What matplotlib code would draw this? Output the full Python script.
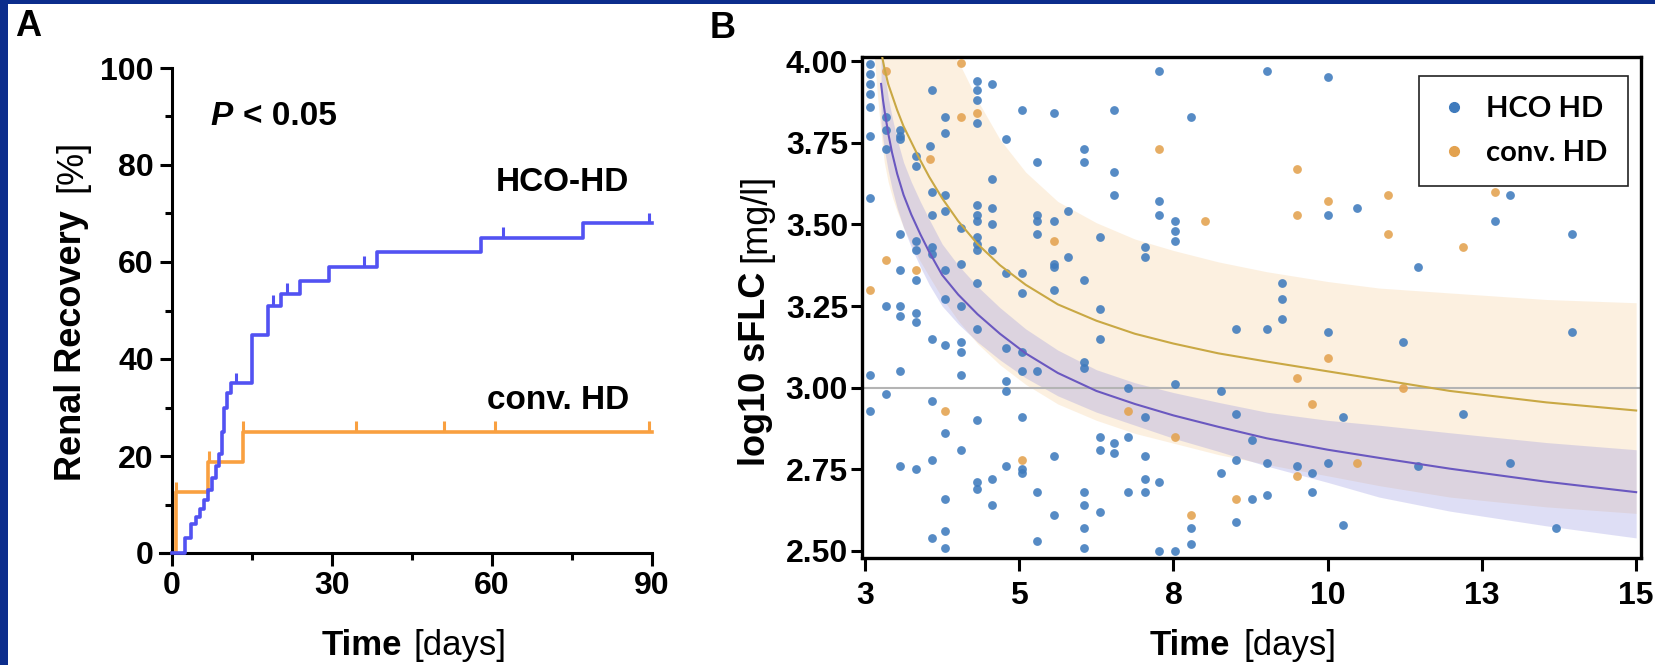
import numpy as np
import matplotlib.pyplot as plt
from matplotlib.patches import Rectangle
from matplotlib.lines import Line2D
from matplotlib.ticker import MultipleLocator

plt.rcParams['font.family'] = ['Liberation Sans', 'DejaVu Sans']

# ---- panel A: renal recovery (Kaplan-Meier, %) ----
hco_t = [0, 2.5, 3.5, 4.5, 5.3, 6.0, 6.8, 7.5, 8.2, 8.9, 9.4, 9.8, 10.3, 11.0,
         15.0, 18.0, 20.5, 24.0, 29.5, 38.5, 58.0, 77.0, 90]
hco_v = [0, 3, 6, 7.5, 9, 11, 13, 15.5, 18, 20.5, 25, 30, 33, 35,
         45, 51, 53.5, 56, 59, 62, 65, 68, 68]
conv_t = [0, 0.8, 6.8, 13.3, 90]
conv_v = [0, 12.5, 18.75, 25, 25]
hco_cens = [12.0, 19.0, 21.5, 36.0, 62.0, 89.5]
conv_cens = [0.8, 7.0, 13.3, 34.5, 51.0, 60.5, 89.5]

# ---- panel B: log10 sFLC scatter ----
hco_x = ([3.08] * 9 + [3.33] * 5 + [3.54] * 9 + [3.80] * 8 + [4.01] + [4.04] * 9
         + [4.25] * 11 + [4.50] * 7 + [4.74] * 15 + [4.97] * 7 + [5.20] * 6
         + [5.45] * 8 + [5.68] * 7 + [5.94] * 7 + [6.16] * 2 + [6.40] * 9
         + [6.65] * 6 + [6.87] * 5 + [7.10] * 3 + [7.36] * 6 + [7.58] * 5
         + [7.82] * 5 + [8.07] * 3 + [8.54] * 2 + [8.78] * 4 + [9.02] * 2
         + [9.25] * 4 + [9.49] * 3 + [9.72] + [9.95] * 2 + [10.20] * 4
         + [10.44] * 2 + [10.66] + [11.37] + [11.61] * 2 + [12.31] + [12.80]
         + [13.04] * 2 + [13.76] + [14.00] * 2)
hco_y = [3.99, 3.96, 3.93, 3.90, 3.86, 3.77, 3.58, 3.04, 2.93,
         3.83, 3.79, 3.73, 3.25, 2.98,
         3.79, 3.77, 3.76, 3.47, 3.36, 3.25, 3.22, 3.05, 2.76,
         3.71, 3.68, 3.45, 3.42, 3.33, 3.23, 3.20, 2.75,
         3.74,
         3.91, 3.60, 3.53, 3.43, 3.41, 3.15, 2.96, 2.78, 2.54,
         3.83, 3.78, 3.59, 3.54, 3.36, 3.27, 3.13, 2.86, 2.66, 2.56, 2.51,
         3.49, 3.38, 3.25, 3.14, 3.11, 3.04, 2.81,
         3.94, 3.91, 3.88, 3.81, 3.56, 3.53, 3.51, 3.46, 3.44, 3.42, 3.32,
         3.18, 2.90, 2.71, 2.69,
         3.93, 3.64, 3.55, 3.50, 3.42, 2.72, 2.64,
         3.76, 3.35, 3.12, 3.02, 2.99, 2.76,
         3.85, 3.35, 3.29, 3.11, 3.05, 2.91, 2.75, 2.74,
         3.69, 3.53, 3.51, 3.47, 3.05, 2.68, 2.53,
         3.84, 3.51, 3.38, 3.37, 3.30, 2.79, 2.61,
         3.54, 3.40,
         3.73, 3.69, 3.33, 3.08, 3.06, 2.68, 2.64, 2.57, 2.51,
         3.46, 3.24, 3.15, 2.85, 2.81, 2.62,
         3.85, 3.66, 3.59, 2.83, 2.80,
         3.00, 2.85, 2.68,
         3.43, 3.40, 2.91, 2.79, 2.72, 2.68,
         3.97, 3.57, 3.53, 2.71, 2.50,
         3.51, 3.48, 3.45, 3.01, 2.50,
         3.83, 2.57, 2.52,
         2.99, 2.74,
         3.18, 2.92, 2.78, 2.59,
         2.84, 2.66,
         3.97, 3.18, 2.77, 2.67,
         3.32, 3.27, 3.21,
         2.76,
         2.74, 2.68,
         3.95, 3.53, 3.17, 2.77,
         2.91, 2.58,
         3.55,
         3.14,
         3.37, 2.76,
         2.92,
         3.51,
         3.59, 2.77,
         2.57,
         3.47, 3.17]
conv_x = [3.08, 3.33, 3.33, 3.80, 4.01, 4.25, 4.50, 4.50, 4.74, 5.45, 5.94,
          7.10, 7.58, 7.82, 8.07, 8.29, 8.78, 9.72, 9.72, 9.72, 9.72, 9.95,
          10.20, 10.20, 10.66, 11.14, 11.14, 11.37, 12.31, 12.80]
conv_y = [3.30, 3.97, 3.39, 3.36, 3.70, 2.93, 3.83, 3.995, 3.84, 2.78, 3.45,
          2.93, 3.73, 2.85, 2.61, 3.51, 2.66, 3.67, 3.53, 3.03, 2.73, 2.95,
          3.57, 3.09, 2.77, 3.59, 3.47, 3.00, 3.43, 3.60]

# fitted curves and confidence bands
hco_fit_x = [3.25, 3.28, 3.31, 3.36, 3.42, 3.50, 3.60, 3.72, 3.86, 4.00, 4.20,
             4.45, 4.75, 5.10, 5.50, 6.00, 6.60, 7.20, 7.80, 8.50, 9.25, 10.2,
             11.0, 12.1, 13.6, 15.0]
hco_fit_y = [3.93, 3.88, 3.84, 3.78, 3.72, 3.655, 3.59, 3.53, 3.47, 3.415, 3.345,
             3.285, 3.225, 3.165, 3.105, 3.045, 2.99, 2.95, 2.915, 2.88, 2.845, 2.81,
             2.785, 2.752, 2.712, 2.68]
hco_band_hi = [4.05, 4.00, 3.955, 3.89, 3.83, 3.76, 3.69, 3.63, 3.57, 3.515, 3.44,
               3.375, 3.31, 3.245, 3.18, 3.115, 3.055, 3.015, 2.985, 2.955, 2.925,
               2.90, 2.885, 2.862, 2.832, 2.81]
hco_band_lo = [3.81, 3.76, 3.72, 3.665, 3.61, 3.55, 3.49, 3.43, 3.37, 3.315, 3.25,
               3.195, 3.14, 3.085, 3.03, 2.975, 2.925, 2.885, 2.845, 2.805, 2.76,
               2.71, 2.665, 2.622, 2.577, 2.54]
conv_fit_x = [3.27, 3.30, 3.36, 3.43, 3.50, 3.60, 3.70, 3.85, 4.00, 4.20, 4.45,
              4.75, 5.10, 5.50, 6.00, 6.60, 7.20, 7.80, 8.50, 9.25, 10.2, 11.0,
              12.1, 13.6, 15.0]
conv_fit_y = [4.01, 3.98, 3.93, 3.89, 3.85, 3.80, 3.76, 3.70, 3.645, 3.58, 3.51,
              3.44, 3.375, 3.315, 3.255, 3.205, 3.165, 3.135, 3.105, 3.08, 3.05, 3.025,
              2.99, 2.955, 2.93]
conv_band_x = [3.15, 3.20] + conv_fit_x
conv_band_hi = [4.05, 4.05, 4.05, 4.05, 4.05, 4.05, 4.05, 4.05, 4.05, 4.05, 4.05,
                4.05, 4.00, 3.88, 3.76, 3.66, 3.57, 3.505, 3.455, 3.42, 3.385, 3.355,
                3.325, 3.305, 3.29, 3.27, 3.26]
conv_band_lo = [4.00, 3.88, 3.74, 3.69, 3.63, 3.58, 3.54, 3.49, 3.45, 3.39, 3.34,
                3.275, 3.205, 3.135, 3.07, 3.01, 2.95, 2.90, 2.86, 2.83, 2.795, 2.765,
                2.73, 2.70, 2.665, 2.635, 2.615]

b_tick_pos = [3, 5.4, 7.8, 10.2, 12.6, 15]
b_tick_lab = ['3', '5', '8', '10', '13', '15']

W, H = 1655, 665
fig = plt.figure(figsize=(W / 100, H / 100), dpi=100)


def rect(x0, y0, x1, y1):
    return [x0 / W, 1 - y1 / H, (x1 - x0) / W, (y1 - y0) / H]


def ftext(x, y, s, **kw):
    fig.text(x / W, 1 - y / H, s, **kw)


# blue frame on top and left
fig.patches.append(Rectangle((0, 1 - 4 / H), 1, 4 / H, transform=fig.transFigure,
                             facecolor='#0c2d8c', lw=0, zorder=0))
fig.patches.append(Rectangle((0, 0), 8 / W, 1, transform=fig.transFigure,
                             facecolor='#0c2d8c', lw=0, zorder=0))

blue_km = '#5252f2'
orange_km = '#f9a040'

# ---------------- panel A ----------------
axA = fig.add_axes(rect(159.7, 68, 652, 553))
axA.step(hco_t, hco_v, where='post', color=blue_km, lw=2.6, clip_on=False, zorder=3)
axA.step(conv_t, conv_v, where='post', color=orange_km, lw=2.6, clip_on=False, zorder=2)
for cens, t, v, c in [(hco_cens, hco_t, hco_v, blue_km), (conv_cens, conv_t, conv_v, orange_km)]:
    for ct in cens:
        val = v[np.searchsorted(t, ct, side='right') - 1]
        axA.vlines(ct, val, val + 2.2, color=c, lw=2.2, clip_on=False)
axA.set_xlim(-2.3, 90)
axA.set_ylim(0, 100)
axA.spines['left'].set_position(('data', 0))
for s in ['top', 'right']:
    axA.spines[s].set_visible(False)
for s in ['left', 'bottom']:
    axA.spines[s].set_linewidth(2.2)
axA.set_xticks([0, 30, 60, 90])
axA.xaxis.set_minor_locator(MultipleLocator(15))
axA.set_yticks([0, 20, 40, 60, 80, 100])
axA.yaxis.set_minor_locator(MultipleLocator(10))
axA.tick_params(which='major', length=9, width=2.2, labelsize=23, pad=4)
axA.tick_params(which='minor', length=5, width=2.2)
for lab in axA.get_xticklabels() + axA.get_yticklabels():
    lab.set_fontweight('bold')

ftext(15, 9, 'A', fontsize=26, weight='bold', va='top')
ftext(210, 125, 'P', fontsize=24, weight='bold', style='italic', va='baseline')
ftext(243, 125, '< 0.05', fontsize=24, weight='bold', va='baseline')
ftext(629, 191, 'HCO-HD', fontsize=24, weight='bold', ha='right', va='baseline')
ftext(629, 409, 'conv. HD', fontsize=24, weight='bold', ha='right', va='baseline')
ftext(402, 655, 'Time', fontsize=25, weight='bold', ha='right', va='baseline')
ftext(413, 655, '[days]', fontsize=25, ha='left', va='baseline')
ftext(81, 481, 'Renal Recovery', fontsize=26, weight='bold', rotation=90,
      rotation_mode='anchor', ha='left', va='baseline')
ftext(81, 140, '[%]', fontsize=26, rotation=90, rotation_mode='anchor',
      ha='right', va='baseline')

# ---------------- panel B ----------------
axB = fig.add_axes(rect(862, 56.8, 1641.3, 557.5))
axB.fill_between(conv_band_x, conv_band_lo, conv_band_hi, color='#f8d9b0',
                 alpha=0.38, lw=0, zorder=1)
axB.fill_between(hco_fit_x, hco_band_lo, hco_band_hi, color='#8888dd',
                 alpha=0.27, lw=0, zorder=1.2)
axB.axhline(3.0, color='#b4b4b4', lw=1.5, zorder=1.5)
axB.scatter(hco_x, hco_y, s=40, color='#3f7bbd', alpha=0.88, lw=0, zorder=3,
            clip_on=False)
axB.scatter(conv_x, conv_y, s=40, color='#e3a24f', alpha=0.88, lw=0, zorder=3,
            clip_on=False)
axB.plot(conv_fit_x, conv_fit_y, color='#c9a844', lw=1.5, zorder=4)
axB.plot(hco_fit_x, hco_fit_y, color='#6a58c0', lw=1.5, zorder=4)
axB.set_xlim(2.953, 15.08)
axB.set_ylim(2.48, 4.013)
for s in axB.spines.values():
    s.set_linewidth(2.4)
axB.set_xticks(b_tick_pos)
axB.set_xticklabels(b_tick_lab)
axB.set_yticks([2.5, 2.75, 3.0, 3.25, 3.5, 3.75, 4.0])
axB.set_yticklabels(['%.2f' % v for v in [2.5, 2.75, 3.0, 3.25, 3.5, 3.75, 4.0]])
axB.tick_params(axis='y', length=8, width=2.2, labelsize=23, pad=2)
axB.tick_params(axis='x', length=9, width=2.2, labelsize=23, pad=8)
for lab in axB.get_xticklabels() + axB.get_yticklabels():
    lab.set_fontweight('bold')

handles = [Line2D([], [], ls='', marker='o', ms=7, color='#3f7bbd', label='HCO HD'),
           Line2D([], [], ls='', marker='o', ms=7, color='#e3a24f', label='conv. HD')]
leg = axB.legend(handles=handles, loc='upper right', bbox_to_anchor=(0.983, 0.962),
                 borderaxespad=0, frameon=True, fancybox=False, framealpha=1,
                 edgecolor='#222222', handletextpad=0.6, labelspacing=0.6,
                 borderpad=0.7, handlelength=1.0,
                 prop={'family': 'Lato', 'weight': 'bold', 'size': 21})
leg.get_frame().set_linewidth(1.2)

ftext(710, 11, 'B', fontsize=26, weight='bold', va='top')
ftext(1230, 655, 'Time', fontsize=25, weight='bold', ha='right', va='baseline')
ftext(1243, 655, '[days]', fontsize=25, ha='left', va='baseline')
ftext(765, 466, 'log10 sFLC', fontsize=26, weight='bold', rotation=90,
      rotation_mode='anchor', ha='left', va='baseline')
ftext(765, 174, '[mg/l]', fontsize=26, rotation=90, rotation_mode='anchor',
      ha='right', va='baseline')

fig.savefig('out.png', dpi=100)
